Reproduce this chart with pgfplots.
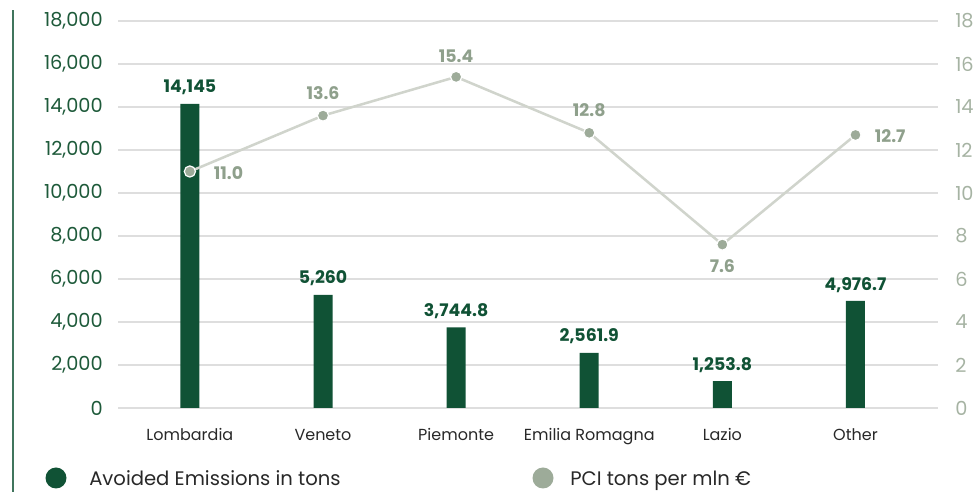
\documentclass[border=0pt]{standalone}
\usepackage{fontspec}
\setmainfont{Poppins}
\usepackage{pgfplots}
\pgfplotsset{compat=1.18}
\definecolor{barg}{RGB}{16,82,53}
\definecolor{tickg}{RGB}{30,90,58}
\definecolor{lineg}{RGB}{208,212,204}
\definecolor{markg}{RGB}{157,171,153}
\definecolor{labg}{RGB}{143,160,140}
\definecolor{rtick}{RGB}{166,179,163}
\definecolor{gridc}{RGB}{222,222,222}
\definecolor{txt}{RGB}{40,40,40}
\begin{document}
\begin{tikzpicture}[x=0.75pt,y=0.75pt]
\useasboundingbox (0,0) rectangle (979,492);
\draw[barg!80, line width=1.4pt] (13,0) -- (13,482);
\begin{axis}[
  at={(88.5pt,63pt)}, anchor=south west, scale only axis,
  width=615pt, height=290.25pt,
  xmin=-0.54, xmax=5.62, ymin=0, ymax=18000,
  axis line style={draw=none}, major tick length=0pt,
  ytick={0,2000,...,18000},
  ymajorgrids, grid style={gridc, line width=0.8pt},
  /pgf/number format/assume math mode=true,
  /pgf/number format/1000 sep={,},
  scaled y ticks=false,
  yticklabel style={font=\fontsize{14.5}{16}\selectfont, text=tickg, anchor=east, inner sep=0pt, xshift=-11.25pt},
  xtick={0,1,2,3,4,5},
  xticklabels={Lombardia,Veneto,Piemonte,Emilia Romagna,Lazio,Other},
  xticklabel style={font=\fontsize{12}{14}\selectfont, text=txt, anchor=base, inner sep=0pt, yshift=-24.75pt},
  clip=false,
]
\addplot[ybar, bar width=14.25pt, fill=barg, draw=none,
  nodes near coords,
  point meta=explicit symbolic,
  nodes near coords style={font=\bfseries\fontsize{13}{15}\selectfont, text=barg, anchor=south, yshift=3pt}]
  table[meta=lab] {
x y lab
0 14145 14,145
1 5260 5,260
2 3744.8 3,744.8
3 2561.9 2,561.9
4 1253.8 1,253.8
5 4976.7 4,976.7
};
\end{axis}
\begin{axis}[
  at={(88.5pt,63pt)}, anchor=south west, scale only axis,
  width=615pt, height=290.25pt,
  xmin=-0.54, xmax=5.62, ymin=0, ymax=18,
  axis y line*=right, axis x line=none,
  axis line style={draw=none}, major tick length=0pt,
  ytick={0,2,...,18},
  /pgf/number format/assume math mode=true,
  yticklabel style={font=\fontsize{14.5}{16}\selectfont, text=rtick, anchor=west, inner sep=0pt, xshift=12.75pt},
  clip=false,
]
\addplot[color=lineg, line width=1.9pt, mark=*, mark size=4.2pt,
  mark options={fill=markg, draw=white, line width=0.9pt},
  visualization depends on={\thisrow{dx} \as \dx},
  visualization depends on={\thisrow{dy} \as \dy},
  nodes near coords,
  point meta=explicit symbolic,
  nodes near coords style={font=\bfseries\fontsize{13}{15}\selectfont, text=labg, anchor=center, xshift=\dx pt, yshift=\dy pt}]
  table[meta=lab] {
x y dx dy lab
0 11.0 29 -1.5 11.0
1 13.6 0 17 13.6
2 15.4 0 15.5 15.4
3 12.8 0 17 12.8
4 7.6 0 -16 7.6
5 12.7 26 -0.5 12.7
};
\end{axis}
\fill[barg] (56,14) circle (10.5);
\node[anchor=base west, inner sep=0pt, text=txt, font=\fontsize{14.7}{16}\selectfont] at (89,6) {Avoided Emissions in tons};
\fill[markg] (543,14) circle (10.5);
\node[anchor=base west, inner sep=0pt, text=txt, font=\fontsize{14.7}{16}\selectfont] at (570,6) {PCI tons per mln €};
\end{tikzpicture}
\end{document}
